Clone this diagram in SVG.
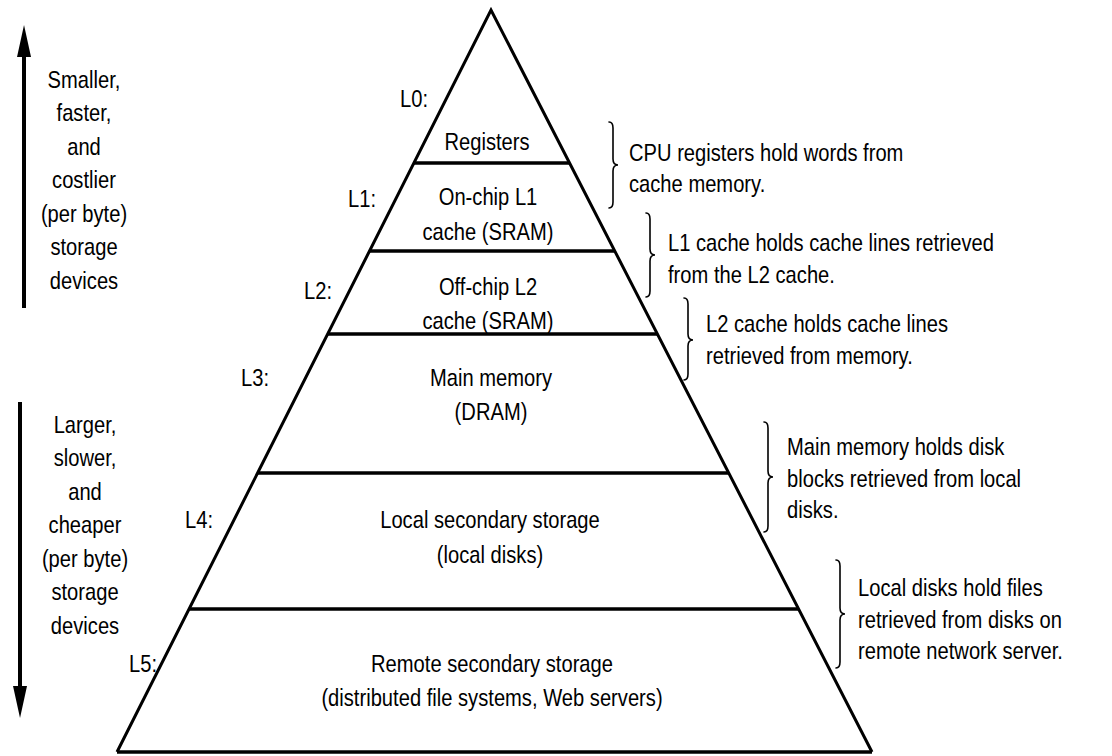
<svg xmlns="http://www.w3.org/2000/svg" width="1112" height="756" viewBox="0 0 1112 756">
<style>
.t{font-family:"Liberation Sans",Arial,Helvetica,sans-serif;font-size:24px;fill:#000}
.m{text-anchor:middle}
.e{text-anchor:end}
.edge{stroke:#000;stroke-width:3;fill:none;stroke-linejoin:miter}
.lvl{stroke:#000;stroke-width:3.5;fill:none}
.brace{stroke:#000;stroke-width:1.6;fill:none;stroke-linecap:round}
.arr{stroke:#000;stroke-width:4;fill:none}
</style>
<rect width="1112" height="756" fill="#fff"/>

<g id="pyramid">
<path class="edge" d="M117,752 L491,10 L872,752"/>
<line class="lvl" x1="117" y1="752" x2="872" y2="752" stroke-width="4.5"/>
</g>

<g id="L0">
<line class="lvl" x1="414" y1="163" x2="570" y2="163"/>
<text class="t e" transform="translate(428,107) scale(.84,1)">L0:</text>
<text class="t m" transform="translate(487,150) scale(.84,1)">Registers</text>
</g>
<g id="L1">
<line class="lvl" x1="369" y1="251" x2="615" y2="251"/>
<text class="t e" transform="translate(376,207) scale(.84,1)">L1:</text>
<text class="t m" transform="translate(488,205) scale(.84,1)"><tspan x="0" y="0">On-chip L1</tspan><tspan x="0" y="35">cache (SRAM)</tspan></text>
</g>
<g id="L2">
<line class="lvl" x1="328" y1="334" x2="657" y2="334"/>
<text class="t e" transform="translate(332,299) scale(.84,1)">L2:</text>
<text class="t m" transform="translate(488,295) scale(.84,1)"><tspan x="0" y="0">Off-chip L2</tspan><tspan x="0" y="34">cache (SRAM)</tspan></text>
</g>
<g id="L3">
<line class="lvl" x1="258" y1="473" x2="728" y2="473"/>
<text class="t e" transform="translate(269,386) scale(.84,1)">L3:</text>
<text class="t m" transform="translate(491,386) scale(.84,1)"><tspan x="0" y="0">Main memory</tspan><tspan x="0" y="34">(DRAM)</tspan></text>
</g>
<g id="L4">
<line class="lvl" x1="189" y1="609" x2="798" y2="609"/>
<text class="t e" transform="translate(213,528) scale(.84,1)">L4:</text>
<text class="t m" transform="translate(490,528) scale(.84,1)"><tspan x="0" y="0">Local secondary storage</tspan><tspan x="0" y="35">(local disks)</tspan></text>
</g>
<g id="L5">
<text class="t e" transform="translate(157,672) scale(.84,1)">L5:</text>
<text class="t m" transform="translate(492,672) scale(.84,1)"><tspan x="0" y="0">Remote secondary storage</tspan><tspan x="0" y="34">(distributed file systems, Web servers)</tspan></text>
</g>

<g id="note-L0">
<path class="brace" d="M609,122 Q613,122 613,128 L613,159 Q613,165 618,165 Q613,165 613,171 L613,202 Q613,208 609,208"/>
<text class="t" transform="translate(629,161) scale(.84,1)"><tspan x="0" y="0">CPU registers hold words from</tspan><tspan x="0" y="31">cache memory.</tspan></text>
</g>
<g id="note-L1">
<path class="brace" d="M646,213 Q650,213 650,219 L650,249 Q650,255 655,255 Q650,255 650,261 L650,291 Q650,297 646,297"/>
<text class="t" transform="translate(668,251) scale(.84,1)"><tspan x="0" y="0">L1 cache holds cache lines retrieved</tspan><tspan x="0" y="32">from the L2 cache.</tspan></text>
</g>
<g id="note-L2">
<path class="brace" d="M684,298 Q688,298 688,304 L688,334 Q688,340 693,340 Q688,340 688,346 L688,374 Q688,380 684,380"/>
<text class="t" transform="translate(706,332) scale(.84,1)"><tspan x="0" y="0">L2 cache holds cache lines</tspan><tspan x="0" y="32">retrieved from memory.</tspan></text>
</g>
<g id="note-L3">
<path class="brace" d="M764,422 Q768,422 768,428 L768,471 Q768,477 773,477 Q768,477 768,483 L768,526 Q768,532 764,532"/>
<text class="t" transform="translate(787,455) scale(.84,1)"><tspan x="0" y="0">Main memory holds disk</tspan><tspan x="0" y="32">blocks retrieved from local</tspan><tspan x="0" y="63">disks.</tspan></text>
</g>
<g id="note-L4">
<path class="brace" d="M836,560 Q840,560 840,566 L840,608 Q840,614 845,614 Q840,614 840,620 L840,662 Q840,668 836,668"/>
<text class="t" transform="translate(858,596) scale(.84,1)"><tspan x="0" y="0">Local disks hold files</tspan><tspan x="0" y="32">retrieved from disks on</tspan><tspan x="0" y="63">remote network server.</tspan></text>
</g>

<g id="connectors">
<line class="arr" x1="24" y1="308" x2="24" y2="50"/>
<polygon points="24,25 17,57 31,57" fill="#000"/>
<line class="arr" x1="20" y1="402" x2="20" y2="690"/>
<polygon points="20,718 13,686 27,686" fill="#000"/>
</g>

<g id="side-up">
<text class="t m" transform="translate(84,88) scale(.84,1)"><tspan x="0" y="0">Smaller,</tspan><tspan x="0" y="33.5">faster,</tspan><tspan x="0" y="67">and</tspan><tspan x="0" y="100.5">costlier</tspan><tspan x="0" y="134">(per byte)</tspan><tspan x="0" y="167.5">storage</tspan><tspan x="0" y="201">devices</tspan></text>
</g>
<g id="side-down">
<text class="t m" transform="translate(85,433) scale(.84,1)"><tspan x="0" y="0">Larger,</tspan><tspan x="0" y="33.5">slower,</tspan><tspan x="0" y="67">and</tspan><tspan x="0" y="100.5">cheaper</tspan><tspan x="0" y="134">(per byte)</tspan><tspan x="0" y="167.5">storage</tspan><tspan x="0" y="201">devices</tspan></text>
</g>
</svg>
